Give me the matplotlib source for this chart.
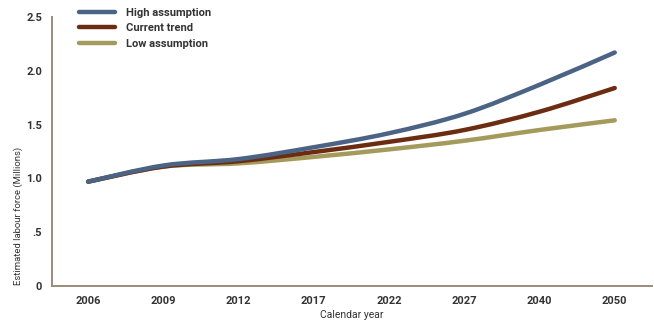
import matplotlib
matplotlib.use("Agg")
import matplotlib.pyplot as plt
from matplotlib.path import Path
from matplotlib.patches import PathPatch
from matplotlib.lines import Line2D
import numpy as np

plt.rcParams['font.family'] = ['Roboto', 'DejaVu Sans']

years = ['2006', '2009', '2012', '2017', '2022', '2027', '2040', '2050']
high = [0.97, 1.12, 1.18, 1.29, 1.42, 1.60, 1.87, 2.17]
current = [0.97, 1.11, 1.16, 1.245, 1.34, 1.45, 1.62, 1.84]
low = [0.97, 1.11, 1.14, 1.20, 1.27, 1.35, 1.45, 1.54]

yticks = [0, 0.5, 1.0, 1.5, 2.0, 2.5]
ytick_labels = ['0', '.5', '1.0', '1.5', '2.0', '2.5']

c_high = '#4b6384'
c_cur = '#6c2c12'
c_low = '#a39a5c'
axis_col = '#9c8b78'
txt_col = '#333333'
lw = 3.2


def smooth_path(xs, ys):
    # catmull-rom through the data points, as cubic bezier segments
    p = np.column_stack([xs, ys]).astype(float)
    ext = np.vstack([p[0], p, p[-1]])
    verts = [p[0]]
    codes = [Path.MOVETO]
    for i in range(len(p) - 1):
        p0, p1, p2, p3 = ext[i], ext[i + 1], ext[i + 2], ext[i + 3]
        verts += [p1 + (p2 - p0) / 6, p2 - (p3 - p1) / 6, p2]
        codes += [Path.CURVE4] * 3
    return Path(verts, codes)


fig = plt.figure(figsize=(6.54, 3.2), dpi=100)
ax = fig.add_axes([0.0795, 0.106, 0.918, 0.841])

x = np.arange(len(years))
series = [(low, c_low, 'Low assumption', 2),
          (current, c_cur, 'Current trend', 3),
          (high, c_high, 'High assumption', 4)]
for vals, col, name, z in series:
    ax.add_patch(PathPatch(smooth_path(x, vals), fill=False, edgecolor=col,
                           lw=lw, capstyle='round', joinstyle='round', zorder=z))

ax.set_xlim(-0.48, 7.5)
ax.set_ylim(0, 2.5)
ax.set_xticks(x)
ax.set_xticklabels(years)
ax.set_yticks(yticks)
ax.set_yticklabels(ytick_labels)
ax.tick_params(length=0, labelsize=8, colors=txt_col, pad=7)
for lab in ax.get_xticklabels() + ax.get_yticklabels():
    lab.set_fontweight('bold')

for s in ['top', 'right']:
    ax.spines[s].set_visible(False)
for s in ['left', 'bottom']:
    ax.spines[s].set_color(axis_col)
    ax.spines[s].set_linewidth(1.4)

ax.set_xlabel('Calendar year', fontsize=7.5, color=txt_col, labelpad=3)
ax.set_ylabel('Estimated labour force (Millions)', fontsize=6.8, color=txt_col)
ax.yaxis.set_label_coords(-0.048, 0.26)

handles = [Line2D([], [], color=col, lw=lw, solid_capstyle='round') for _, col, _, _ in series][::-1]
labels = [name for _, _, name, _ in series][::-1]
leg = ax.legend(handles, labels, loc='upper left',
                bbox_to_anchor=(0.105, 1.007), bbox_transform=fig.transFigure,
                frameon=False, fontsize=8, handlelength=3.3, handletextpad=1.0,
                labelspacing=0.5)
for t in leg.get_texts():
    t.set_color(txt_col)
    t.set_fontweight('bold')

fig.savefig('out.png', dpi=100)
